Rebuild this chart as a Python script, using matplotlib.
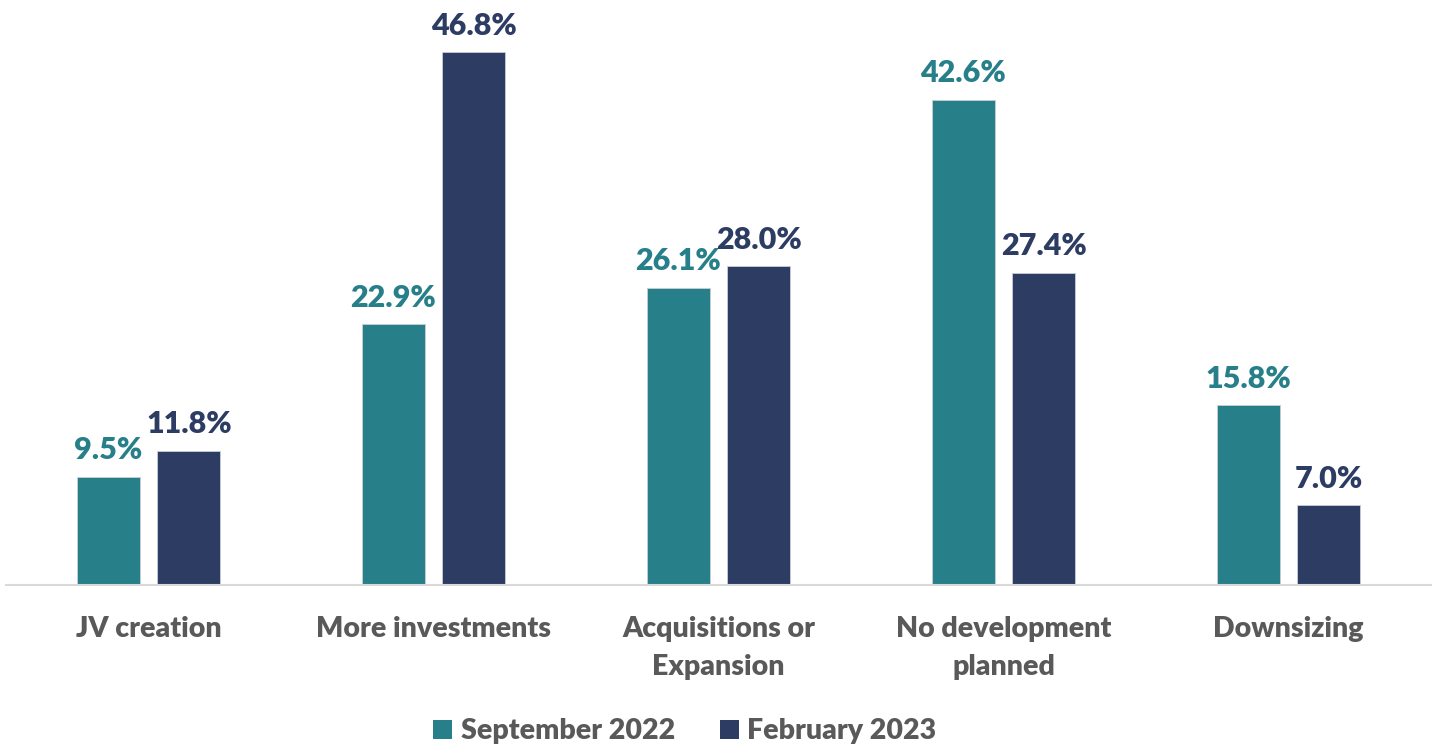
import matplotlib
matplotlib.use("Agg")
import matplotlib.pyplot as plt
import numpy as np
from matplotlib.patches import Patch

plt.rcParams['font.family'] = ['Lato', 'DejaVu Sans']

categories = ["JV creation", "More investments", "Acquisitions or\nExpansion",
              "No development\nplanned", "Downsizing"]
sep_2022 = [9.5, 22.9, 26.1, 42.6, 15.8]
feb_2023 = [11.8, 46.8, 28.0, 27.4, 7.0]
series_names = ["September 2022", "February 2023"]

teal = "#267F89"
navy = "#2D3C63"
label_grey = "#595959"
weight = "heavy"

fig = plt.figure(figsize=(14.36, 7.44), dpi=100)
ax = fig.add_axes([6 / 1436, 0.2137, 1425 / 1436, 0.7653])

x = np.arange(len(categories))
width = 0.221
offset = 0.142

b1 = ax.bar(x - offset, sep_2022, width, color=teal, edgecolor="#c9ced8", linewidth=0.6)
b2 = ax.bar(x + offset, feb_2023, width, color=navy, edgecolor="#c9ced8", linewidth=0.6)

for bars, vals, col in ((b1, sep_2022, teal), (b2, feb_2023, navy)):
    for r, v in zip(bars, vals):
        ax.annotate(f"{v:.1f}%", (r.get_x() + r.get_width() / 2, v),
                    xytext=(0, 9), textcoords="offset points",
                    ha="center", va="bottom", fontsize=22,
                    fontweight=weight, color=col)

ax.set_xlim(-0.5, 4.5)
ax.set_ylim(0, 50)
ax.set_yticks([])
ax.set_xticks(x)
ax.set_xticklabels(categories, fontsize=20.5, fontweight=weight, color=label_grey,
                   linespacing=1.6)
ax.tick_params(axis="x", length=0, pad=22)
for s in ("top", "right", "left"):
    ax.spines[s].set_visible(False)
ax.spines["bottom"].set_color("#d9d9d9")
ax.spines["bottom"].set_linewidth(1.5)

handles = [Patch(facecolor=teal), Patch(facecolor=navy)]
fig.legend(handles, series_names, loc="lower center", bbox_to_anchor=(0.477, -0.035),
           ncol=2, frameon=False, prop={"size": 20.5, "weight": weight},
           labelcolor=label_grey, handlelength=0.65, handleheight=0.65,
           handletextpad=0.3, columnspacing=1.6)

fig.savefig("out.png", dpi=100)
